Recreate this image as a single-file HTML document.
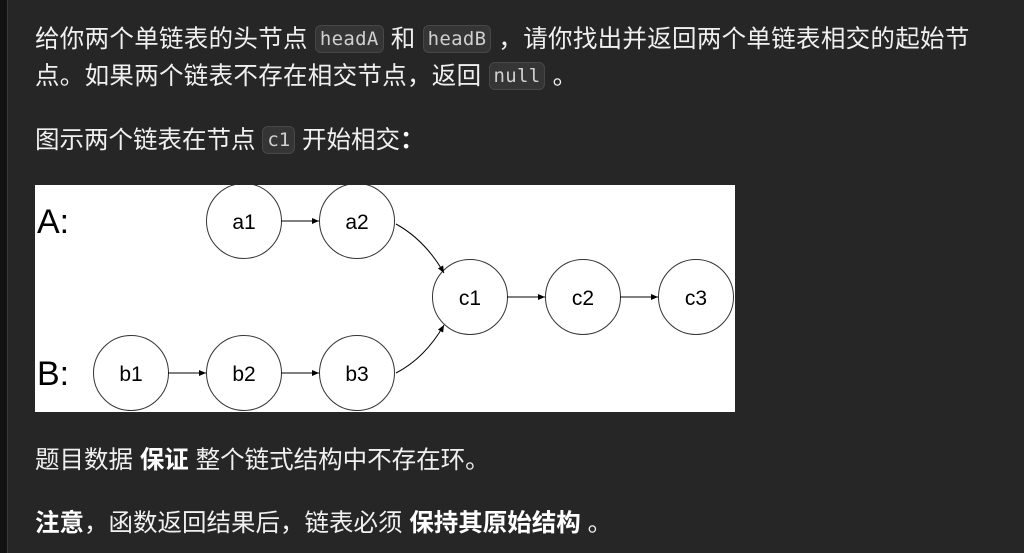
<!DOCTYPE html>
<html><head><meta charset="utf-8"><style>
html,body{margin:0;padding:0;}
body{width:1024px;height:553px;background:#262626;position:relative;overflow:hidden;font-family:"Liberation Sans","Noto Sans CJK SC",sans-serif;color:#f0f0f0;font-size:24.5px;}
.strip{position:absolute;left:0;top:0;width:7px;height:553px;background:#121212;border-right:1px solid #3a3a3a;}
.l{position:absolute;left:35px;white-space:nowrap;line-height:36px;}
code{font-family:"DejaVu Sans Mono","Liberation Mono",monospace;font-size:19px;background:#353535;border:1px solid #474747;border-radius:6px;padding:2px 4px;color:#d0d0d0;vertical-align:2px;}
b{font-weight:bold;color:#fff;}
</style></head><body>
<div class="strip"></div>
<div class="l" style="top:21px;letter-spacing:0.3px">给你两个单链表的头节点 <code>headA</code> 和 <code>headB</code> ，请你找出并返回两个单链表相交的起始节</div>
<div class="l" style="top:58px;letter-spacing:0.3px">点。如果两个链表不存在相交节点，返回 <code>null</code> 。</div>
<div class="l" style="top:122px">图示两个链表在节点 <code>c1</code> 开始相交<b>：</b></div>
<svg style="position:absolute;left:35px;top:185px" width="700" height="227" viewBox="35 185 700 227">
<defs><marker id="m" markerWidth="8" markerHeight="8" refX="7" refY="4" orient="auto"><path d="M0,1 L7,4 L0,7 Z" fill="#000"/></marker></defs>
<rect x="35" y="185" width="700" height="227" fill="#fff"/>
<g font-family="Liberation Sans,sans-serif" fill="#000">
<text x="37" y="233" font-size="34">A:</text>
<text x="37" y="385" font-size="34">B:</text>
</g>
<g fill="#fff" stroke="#333" stroke-width="1">
<circle cx="244" cy="221" r="37.5"/><circle cx="357" cy="221" r="37.5"/>
<circle cx="470" cy="297" r="37.5"/><circle cx="583" cy="297" r="37.5"/><circle cx="696" cy="297" r="37.5"/>
<circle cx="131" cy="373" r="37.5"/><circle cx="244" cy="373" r="37.5"/><circle cx="357" cy="373" r="37.5"/>
</g>
<g font-family="Liberation Sans,sans-serif" font-size="21" text-anchor="middle" fill="#000">
<text x="244" y="229">a1</text><text x="357" y="229">a2</text>
<text x="470" y="305">c1</text><text x="583" y="305">c2</text><text x="696" y="305">c3</text>
<text x="131" y="381">b1</text><text x="244" y="381">b2</text><text x="357" y="381">b3</text>
</g>
<g stroke="#000" stroke-width="1" fill="none" marker-end="url(#m)">
<line x1="281" y1="221" x2="319" y2="221"/>
<line x1="168" y1="373" x2="206" y2="373"/>
<line x1="281" y1="373" x2="319" y2="373"/>
<line x1="507" y1="297" x2="545" y2="297"/>
<line x1="620" y1="297" x2="658" y2="297"/>
<path d="M396,224 Q425,240 444,273"/>
<path d="M396,373 Q425,358 444,325"/>
</g>
</svg>
<div class="l" style="top:443px">题目数据 <b>保证</b> 整个链式结构中不存在环。</div>
<div class="l" style="top:506px"><b>注意</b>，函数返回结果后，链表必须 <b>保持其原始结构</b> 。</div>
</body></html>
